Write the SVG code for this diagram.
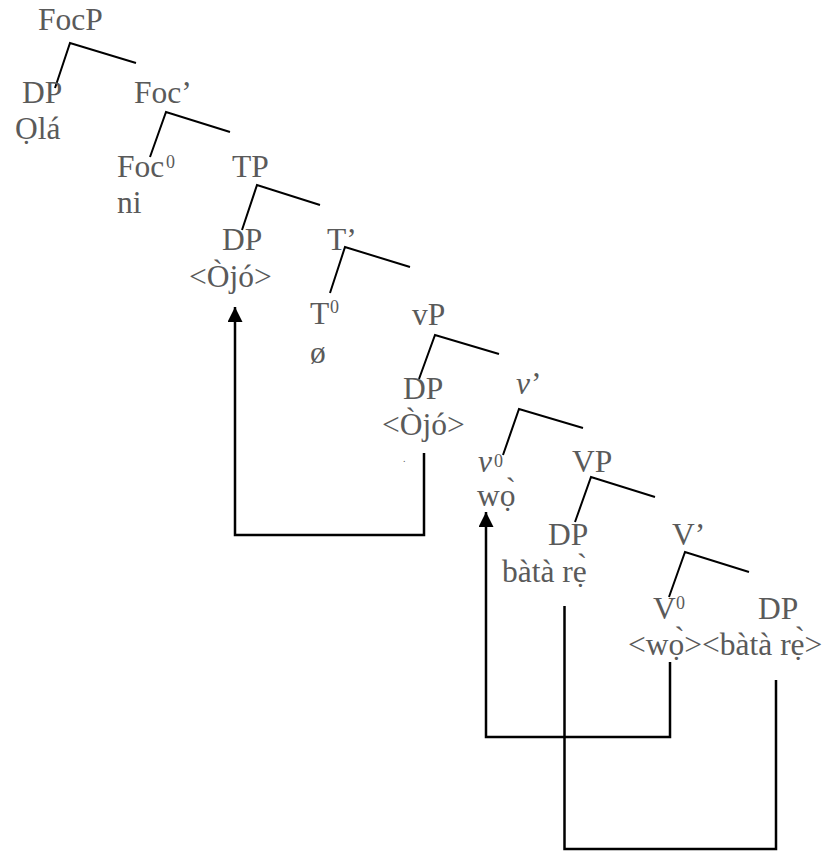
<svg xmlns="http://www.w3.org/2000/svg" width="829" height="852" viewBox="0 0 829 852">
<style>
text{font-family:"Liberation Serif","Times New Roman",serif;font-size:31.5px;fill:#5a5a5a}
.sup{font-size:18px}
.it{font-style:italic}
.br{fill:none;stroke:#000;stroke-width:2}
.mv{fill:none;stroke:#000;stroke-width:2.5}
</style>
<defs>
<marker id="ah" viewBox="0 0 10 10" refX="10" refY="5" markerWidth="6" markerHeight="6" markerUnits="strokeWidth" orient="auto">
<path d="M0,0 L10,5 L0,10 z" fill="#000"/>
</marker>
</defs>
<rect width="829" height="852" fill="#fff"/>
<g id="connectors">
<polyline class="br" points="55,88 70,43 136,63"/>
<polyline class="br" points="150,157 166,112 230,132"/>
<polyline class="br" points="242,230 257,185 320,205"/>
<polyline class="br" points="330,293 345,247 410,267"/>
<polyline class="br" points="419,379 435,335 499,354"/>
<polyline class="br" points="503,455 519,409 583,428"/>
<polyline class="br" points="575,522 591,477 655,497"/>
<polyline class="br" points="669,597 685,552 749,572"/>
<path class="mv" d="M424,453 V535 H235 V307" marker-end="url(#ah)"/>
<path class="mv" d="M670,662 V737 H486 V512" marker-end="url(#ah)"/>
<path class="mv" d="M776,680 V849 H564.5 V606"/>
</g>
<g id="FocP"><text x="38" y="30">FocP</text></g>
<g id="DP1"><text x="22" y="103">DP</text><text x="15" y="139">Ọlá</text></g>
<g id="FocBar"><text x="134" y="103">Foc’</text></g>
<g id="Foc0"><text x="117" y="177">Foc</text><text class="sup" x="166" y="168">0</text><text x="117" y="213">ni</text></g>
<g id="TP"><text x="232" y="177">TP</text></g>
<g id="DP2"><text x="222" y="250">DP</text><text x="189" y="287">&lt;Òjó&gt;</text></g>
<g id="TBar"><text x="327" y="250">T’</text></g>
<g id="T0"><text x="310" y="324">T</text><text class="sup" x="330" y="313">0</text><text x="310" y="363">ø</text></g>
<g id="vP"><text x="412" y="325">vP</text></g>
<g id="DP3"><text x="403" y="399">DP</text><text x="382" y="435">&lt;Òjó&gt;</text><text x="403" y="462" style="font-size:10px">.</text></g>
<g id="vBar"><text class="it" x="516" y="394">v</text><text x="531" y="394">’</text></g>
<g id="v0"><text class="it" x="478" y="472">v</text><text class="sup" x="494" y="467">0</text><text x="477" y="506">wọ̀</text></g>
<g id="VP"><text x="572" y="472">VP</text></g>
<g id="DP4"><text x="548" y="545">DP</text><text x="502" y="582">bàtà rẹ̀</text></g>
<g id="VBar"><text x="672" y="545">V’</text></g>
<g id="V0"><text x="653" y="619">V</text><text class="sup" x="676" y="609">0</text></g>
<g id="DP5"><text x="758" y="619">DP</text></g>
<g id="traces"><text x="628" y="655">&lt;wọ̀&gt;&lt;bàtà rẹ̀&gt;</text></g>
</svg>
